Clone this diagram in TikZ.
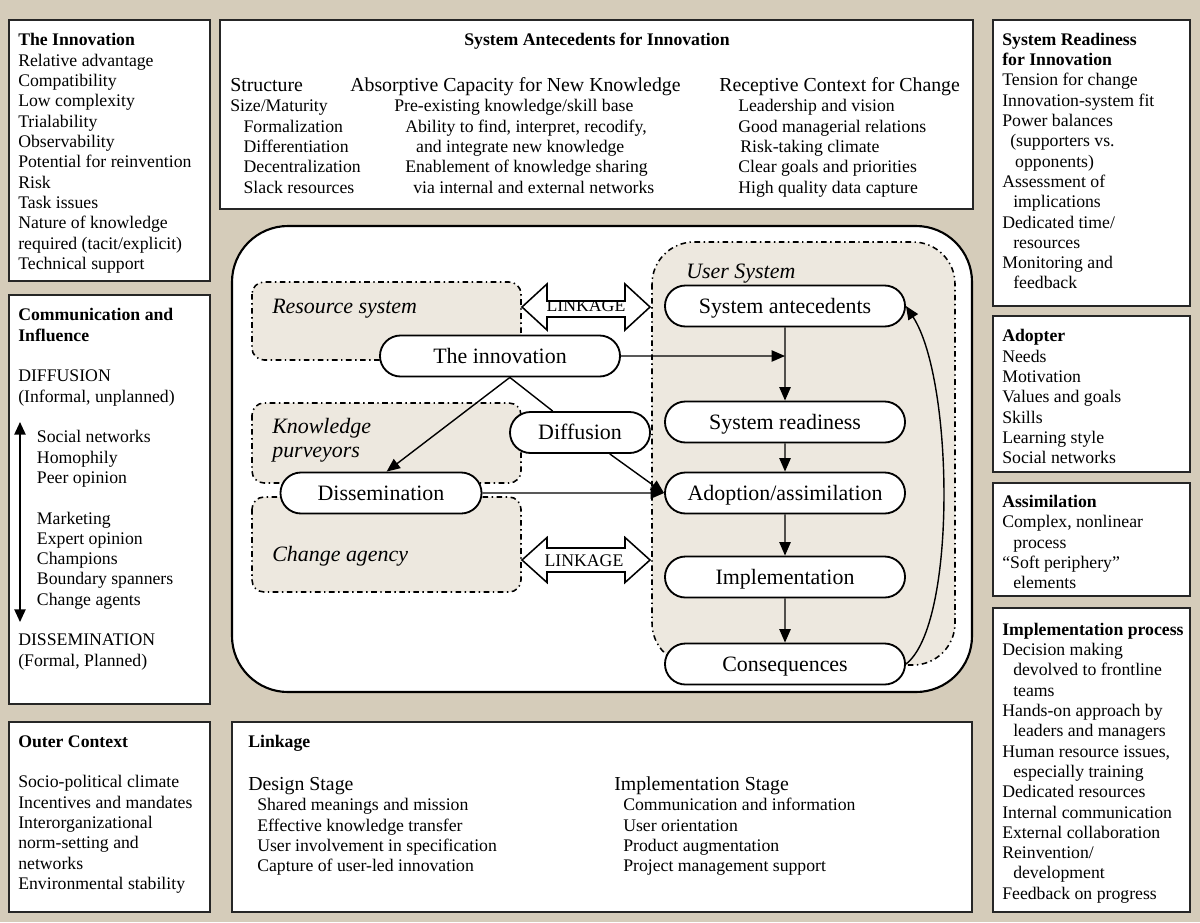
\documentclass[tikz,border=0pt]{standalone}
\usepackage{fontspec}
\setmainfont{Liberation Serif}
\usetikzlibrary{shapes.misc,arrows.meta}
\definecolor{bg}{RGB}{213,204,186}
\definecolor{shadefill}{RGB}{237,232,223}
\newcommand\bodyf{\fontsize{12.6}{14.44}\selectfont}
\newcommand\headf{\fontsize{14.1}{16}\selectfont}
\newcommand\bigf{\fontsize{15.6}{17.07}\selectfont}
\newcommand\fl{\rule{0pt}{12pt}}
\newcommand\ind[1]{\hspace*{#1pt}}
\begin{document}
\begin{tikzpicture}[x=0.025cm,y=-0.025cm,
  box/.style={draw=black!85,line width=1.8pt,fill=white},
  blk/.style={anchor=north west,inner sep=0pt,align=left,yshift=12pt},
  lbl/.style={anchor=base west,inner sep=0pt},
  oval/.style={rounded rectangle,draw,line width=1.3pt,fill=white,minimum width=6cm,minimum height=1.025cm,font=\bigf,inner sep=0pt,text height=12pt,text depth=2pt},
  region/.style={draw,line width=1.1pt,fill=shadefill,dash pattern=on 4pt off 2.5pt on 1pt off 2.5pt,rounded corners=0.3cm},
  arr/.style={-{Triangle[length=9.5pt,width=8pt]},line width=1pt},
  link/.style={draw,line width=1.1pt,fill=white}]
% background
\fill[bg] (0,0) rectangle (1200,922);
% outer boxes
\draw[box] (9,20) rectangle (210,281);
\draw[box] (9,295) rectangle (210,704);
\draw[box] (9,722) rectangle (210,912);
\draw[box] (220,20) rectangle (973,209);
\draw[box] (232,722) rectangle (972,912);
\draw[box] (993,20) rectangle (1190,306);
\draw[box] (993,316) rectangle (1190,472);
\draw[box] (993,483) rectangle (1190,596);
\draw[box] (993,608) rectangle (1190,912);
% central box
\draw[line width=1.5pt,fill=white,rounded corners=1.4cm] (232,226) rectangle (972,692);
% regions
\draw[region] (252,282) rectangle (521,360);
\draw[region] (252,403) rectangle (521,483);
\draw[region] (252,497) rectangle (521,592);
\draw[region,rounded corners=1.05cm] (652,242) rectangle (955,665);

% ---- left column texts
\node[blk,font=\bodyf] (tinn) at (18,45.7) {\fl\textbf{The Innovation}\\Relative advantage\\Compatibility\\Low complexity\\Trialability\\Observability\\Potential for reinvention\\Risk\\Task issues\\Nature of knowledge\\required (tacit/explicit)\\Technical support};
\node[blk,font=\bodyf] (tcom) at (18,320.7) {\fl\textbf{Communication and}\\\textbf{Influence}\\[14.44pt]DIFFUSION\\(Informal, unplanned)\\[14.44pt]\ind{13.3}Social networks\\\ind{13.3}Homophily\\\ind{13.3}Peer opinion\\[14.44pt]\ind{13.3}Marketing\\\ind{13.3}Expert opinion\\\ind{13.3}Champions\\\ind{13.3}Boundary spanners\\\ind{13.3}Change agents\\[14.44pt]DISSEMINATION\\(Formal, Planned)};
\coordinate (ct) at (20,422);
\coordinate (cb) at (20,622);
\draw[{Triangle[length=9pt,width=8pt]}-{Triangle[length=9pt,width=8pt]},line width=1.2pt] (ct) -- (cb);
\node[blk,font=\bodyf] (tout) at (18,747) {\fl\textbf{Outer Context}\\[14.44pt]Socio-political climate\\Incentives and mandates\\Interorganizational\\norm-setting and\\networks\\Environmental stability};

% ---- top box
\node[anchor=base,inner sep=0pt,font=\bodyf\bfseries] (tsa) at (597,45) {System Antecedents for Innovation};
\node[lbl,font=\headf] (hstr) at (230,91) {Structure};
\node[lbl,font=\headf] (habs) at (350,91) {Absorptive Capacity for New Knowledge};
\node[lbl,font=\headf] (hrec) at (719,91) {Receptive Context for Change};
\node[blk,font=\bodyf] (istr) at (230,111.7) {\fl Size/Maturity\\\ind{9.5}Formalization\\\ind{9.5}Differentiation\\\ind{9.5}Decentralization\\\ind{9.5}Slack resources};
\node[blk,font=\bodyf] (iabs) at (394,111.7) {\fl Pre-existing knowledge/skill base\\\ind{7.8}Ability to find, interpret, recodify,\\\ind{15.6}and integrate new knowledge\\\ind{7.8}Enablement of knowledge sharing\\\ind{13.5}via internal and external networks};
\node[blk,font=\bodyf] (irec) at (738,111.7) {\fl Leadership and vision\\Good managerial relations\\\ind{1.4}Risk-taking climate\\Clear goals and priorities\\High quality data capture};

% ---- bottom linkage box
\node[lbl,font=\bodyf\bfseries] (tlink) at (248,747) {Linkage};
\node[lbl,font=\headf] (hdes) at (248,790) {Design Stage};
\node[blk,font=\bodyf] (ides) at (257,810.5) {\fl Shared meanings and mission\\Effective knowledge transfer\\User involvement in specification\\Capture of user-led innovation};
\node[lbl,font=\headf] (himp) at (614,790) {Implementation Stage};
\node[blk,font=\bodyf] (iimp) at (623,810.5) {\fl Communication and information\\User orientation\\Product augmentation\\Project management support};

% ---- right column
\node[blk,font=\bodyf] (tsr) at (1002,45) {\fl\textbf{System Readiness}\\\textbf{for Innovation}\\Tension for change\\Innovation-system fit\\Power balances\\\ind{5.7}(supporters vs.\\\ind{9.2}opponents)\\Assessment of\\\ind{7.8}implications\\Dedicated time/\\\ind{7.8}resources\\Monitoring and\\\ind{7.8}feedback};
\node[blk,font=\bodyf] (tad) at (1002,341.7) {\fl\textbf{Adopter}\\Needs\\Motivation\\Values and goals\\Skills\\Learning style\\Social networks};
\node[blk,font=\bodyf] (tas) at (1002,507.3) {\fl\textbf{Assimilation}\\Complex, nonlinear\\\ind{7.8}process\\“Soft periphery”\\\ind{7.8}elements};
\node[blk,font=\bodyf] (tip) at (1002,635) {\fl\textbf{Implementation process}\\Decision making\\\ind{7.8}devolved to frontline\\\ind{7.8}teams\\Hands-on approach by\\\ind{7.8}leaders and managers\\Human resource issues,\\\ind{7.8}especially training\\Dedicated resources\\Internal communication\\External collaboration\\Reinvention/\\\ind{7.8}development\\Feedback on progress};

% ---- region labels
\node[lbl,font=\bigf\itshape] (lres) at (272,313) {Resource system};
\node[blk,font=\bigf\itshape] (lkp) at (272,433) {\fl Knowledge\\purveyors};
\node[lbl,font=\bigf\itshape] (lca) at (272,561.7) {Change agency};
\node[lbl,font=\bigf\itshape] (lus) at (686,278) {User System};

% ---- linkage arrows
\draw[link] (522,307) -- (547,284) -- (547,301) -- (625,301) -- (625,284) -- (650,307) -- (625,330) -- (625,317) -- (547,317) -- (547,330) -- cycle;
\begin{scope}
\clip (547,302.5) rectangle (625,317);
\node[anchor=base,inner sep=0pt,font=\bodyf] (lk1) at (586,311) {LINKAGE};
\end{scope}
\draw[link] (522,560) -- (547,537.5) -- (547,548) -- (625,548) -- (625,537.5) -- (650,560) -- (625,582.5) -- (625,572) -- (547,572) -- (547,582.5) -- cycle;
\node[anchor=base,inner sep=0pt,font=\bodyf] (lk2) at (584,566) {LINKAGE};

% ---- process nodes
\node[oval] (inno) at (500,356) {The innovation};
\node[oval,minimum width=3.5cm] (diff) at (580,432.5) {Diffusion};
\node[oval,minimum width=5.025cm] (diss) at (381,493) {Dissemination};
\node[oval] (sa) at (785,306) {System antecedents};
\node[oval] (sr) at (785,422) {System readiness};
\node[oval] (adopt) at (785,493) {Adoption/assimilation};
\node[oval] (impl) at (785,577) {Implementation};
\node[oval] (cons) at (785,664) {Consequences};
\coordinate (j) at (785,356);

% ---- connectors
\draw[arr] (inno) -- (j);
\draw[arr] (sa) -- (sr);
\draw[arr] (sr) -- (adopt);
\draw[arr] (adopt) -- (impl);
\draw[arr] (impl) -- (cons);
\draw[line width=1pt] ([xshift=7pt]inno.south) -- (diff);
\draw[arr] (diff) -- (adopt.west);
\draw[arr] ([xshift=7pt]inno.south) -- ([xshift=4pt]diss.north);
\draw[arr] (diss) -- (adopt);
\draw[arr] (cons.east) .. controls +(51,-39) and +(48,74) .. (sa.east);
\end{tikzpicture}
\end{document}
